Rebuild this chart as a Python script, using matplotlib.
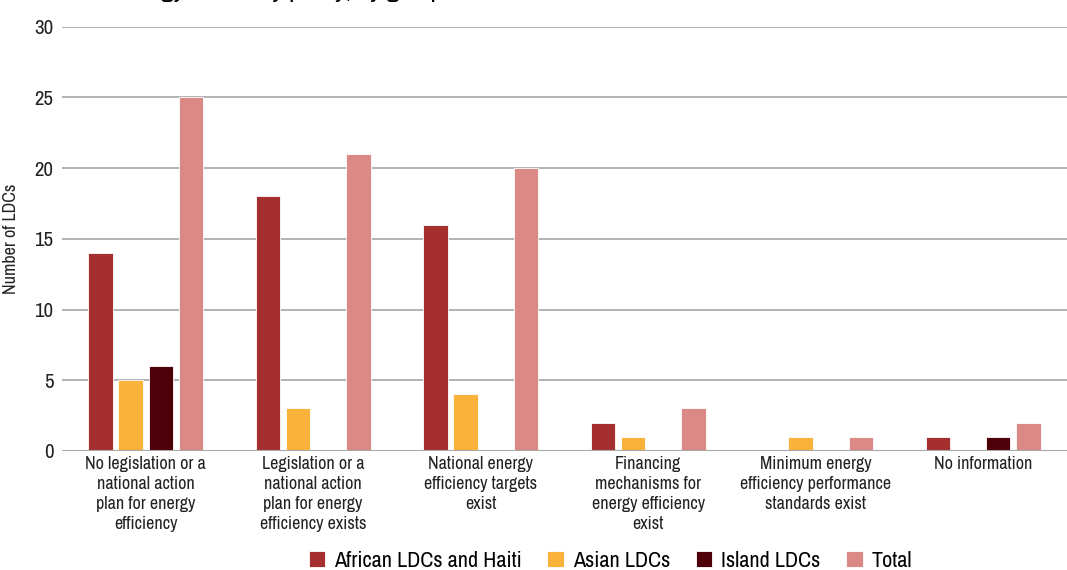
import numpy as np
import matplotlib
matplotlib.use("Agg")
import matplotlib.pyplot as plt
from matplotlib import font_manager

# fuente condensada si existe
narrow = [f.name for f in font_manager.fontManager.ttflist if "Narrow" in f.name]
plt.rcParams['font.family'] = (narrow[:1] + ['Liberation Sans', 'DejaVu Sans'])

categorias = [
    "No legislation or a\nnational action\nplan for energy\nefficiency",
    "Legislation or a\nnational action\nplan for energy\nefficiency exists",
    "National energy\nefficiency targets\nexist",
    "Financing\nmechanisms for\nenergy efficiency\nexist",
    "Minimum energy\nefficiency performance\nstandards exist",
    "No information",
]
series = ["African LDCs and Haiti", "Asian LDCs", "Island LDCs", "Total"]
africa = [14, 18, 16, 2, 0, 1]
asia = [5, 3, 4, 1, 1, 0]
islas = [6, 0, 0, 0, 0, 1]
total = [25, 21, 20, 3, 1, 2]
colores = ["#A52F2F", "#F9B23A", "#4E000A", "#DA8984"]

fig = plt.figure(figsize=(10.67, 5.70), dpi=100)
ax = fig.add_axes([0.058, 0.209, 0.942, 0.744])

x = np.arange(len(categorias))
paso = 0.18
ancho = 0.145
for k, (nombre, vals, col) in enumerate(zip(series, [africa, asia, islas, total], colores)):
    ax.bar(x + (k - 1.5) * paso, vals, width=ancho, color=col, label=nombre,
           edgecolor="white", linewidth=0.6, zorder=3)

ax.set_xlim(-0.5, len(categorias) - 0.5)
ax.set_ylim(0, 30)
ax.set_yticks(range(0, 31, 5))
ax.yaxis.grid(True, color="#a6a6a6", linewidth=1.2, zorder=0)
ax.axhline(0, color="#a6a6a6", linewidth=1.5, zorder=4)
for s in ax.spines.values():
    s.set_visible(False)
ax.tick_params(axis="y", length=0, labelsize=15, colors="#222222", pad=6)
ax.tick_params(axis="x", length=0, labelsize=13, colors="#222222", pad=4)
ax.set_xticks(x)
ax.set_xticklabels(categorias, linespacing=1.3, va="top")
ax.set_ylabel("Number of LDCs", fontsize=13, color="#222222", labelpad=11)

# título (queda cortado por el borde superior)
fig.text(0.011, 1.003, "LDCs with energy efficiency policy, by group",
         fontsize=19, fontweight="bold", va="baseline", ha="left")

fig.legend(loc="lower center", ncol=4, frameon=False, fontsize=16,
           bbox_to_anchor=(0.572, -0.037), handlelength=0.75, handleheight=0.75,
           handletextpad=0.4, columnspacing=1.15)

fig.savefig("out.png", dpi=100)
